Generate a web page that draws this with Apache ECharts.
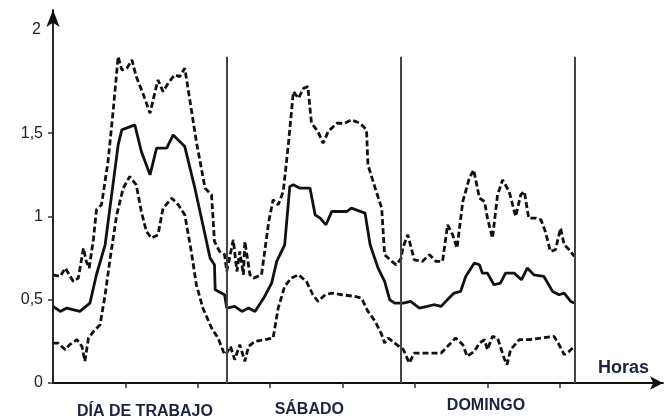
<!DOCTYPE html>
<html>
<head>
<meta charset="utf-8">
<script src="https://cdn.jsdelivr.net/npm/echarts@6/dist/echarts.min.js"></script>
<style>
  html, body { margin: 0; padding: 0; background: #fff; }
  #chart { width: 664px; height: 418px; }
</style>
</head>
<body>
<div id="chart"></div>
<script>
// Hourly load profile over three day types: mean (solid) and upper / lower band (dashed).
// Points are [hour, value]; hours run 0-72 across the three 24 h blocks.
const meanLoad = [
  [0,0.46],[1.0,0.43],[1.9,0.45],[3.7,0.43],[5.1,0.48],[6.0,0.65],[7.2,0.83],[8.1,1.13],
  [9.0,1.43],[9.5,1.52],[11.3,1.55],[12.2,1.39],[13.4,1.25],[14.3,1.41],[15.7,1.41],[16.6,1.49],
  [18.2,1.42],[19.6,1.17],[20.7,0.95],[21.7,0.75],[22.3,0.71],[22.4,0.56],[23.7,0.53],
  [24.0,0.45],[25.1,0.46],[26.1,0.43],[27.0,0.45],[27.9,0.43],[29.1,0.51],[30.2,0.60],[30.9,0.73],
  [32.0,0.83],[32.7,1.18],[33.2,1.19],[34.1,1.17],[35.5,1.17],[36.2,1.01],[36.9,0.99],[37.7,0.95],
  [38.5,1.03],[40.6,1.03],[41.2,1.05],[43.1,1.02],[43.8,0.83],[44.9,0.69],[45.8,0.61],[46.5,0.50],
  [47.2,0.48],[48.4,0.48],[49.4,0.49],[50.6,0.45],[51.7,0.46],[52.6,0.47],[53.6,0.46],[54.7,0.51],
  [55.4,0.54],[56.3,0.55],[57.0,0.64],[58.2,0.72],[58.9,0.71],[59.3,0.66],[60.0,0.66],[60.9,0.59],
  [61.8,0.60],[62.5,0.66],[63.7,0.66],[64.7,0.62],[65.5,0.69],[66.4,0.65],[67.8,0.64],[69.0,0.55],
  [69.9,0.53],[70.6,0.54],[71.5,0.49],[72.0,0.48]
];

const upperBand = [
  [0,0.65],[1.0,0.64],[1.7,0.69],[2.8,0.61],[3.5,0.63],[4.2,0.81],[4.6,0.73],[5.0,0.69],[5.6,0.87],
  [6.0,1.04],[6.7,1.07],[7.6,1.33],[8.3,1.63],[9.0,1.96],[9.5,1.88],[10.2,1.89],[10.9,1.94],
  [11.5,1.84],[12.5,1.73],[13.4,1.62],[14.1,1.75],[14.5,1.82],[15.2,1.75],[15.9,1.80],[16.8,1.85],
  [17.5,1.84],[18.2,1.89],[18.9,1.70],[19.8,1.45],[21.0,1.17],[21.9,1.13],[22.3,0.85],[23.0,0.79],
  [23.7,0.77],[24.0,0.67],[24.9,0.86],[25.4,0.67],[25.8,0.79],[26.3,0.65],[26.5,0.85],[27.2,0.65],
  [27.7,0.63],[28.8,0.65],[29.8,0.97],[30.4,1.10],[31.1,1.07],[31.8,1.15],[32.5,1.43],[33.2,1.75],
  [33.9,1.71],[34.6,1.77],[35.2,1.78],[35.7,1.56],[36.6,1.51],[37.3,1.44],[38.0,1.51],[39.2,1.56],
  [40.3,1.56],[41.2,1.58],[42.4,1.56],[43.3,1.52],[43.5,1.31],[44.5,1.17],[45.4,1.05],[45.8,0.77],
  [46.8,0.73],[47.4,0.71],[48.1,0.75],[48.3,0.81],[49.0,0.89],[49.9,0.74],[51.0,0.73],[52.0,0.77],
  [52.9,0.73],[53.8,0.73],[54.5,0.95],[55.2,0.89],[55.8,0.81],[56.6,1.09],[57.5,1.23],[58.1,1.28],
  [58.9,1.11],[59.6,1.09],[60.0,0.99],[60.7,0.87],[61.4,1.13],[62.1,1.22],[63.0,1.15],[63.9,1.00],
  [64.6,1.13],[65.1,1.15],[65.7,0.99],[66.7,0.99],[67.4,0.98],[68.0,0.91],[68.7,0.79],[69.4,0.80],
  [70.1,0.93],[70.6,0.83],[71.3,0.80],[72.0,0.76]
];

const lowerBand = [
  [0,0.24],[0.7,0.24],[1.7,0.20],[2.3,0.23],[3.3,0.26],[4.0,0.22],[4.4,0.13],[4.9,0.27],[5.6,0.31],
  [6.5,0.35],[7.2,0.53],[7.9,0.75],[8.8,1.01],[9.7,1.17],[10.6,1.24],[11.5,1.19],[12.2,1.03],
  [12.9,0.91],[13.6,0.87],[14.5,0.89],[15.2,1.05],[16.4,1.11],[17.3,1.07],[18.2,1.01],[19.1,0.79],
  [19.8,0.59],[20.7,0.45],[21.9,0.33],[22.8,0.27],[23.7,0.17],[24.0,0.18],[24.5,0.22],[25.1,0.14],
  [25.8,0.23],[26.5,0.13],[27.0,0.22],[27.9,0.25],[29.3,0.26],[30.4,0.27],[31.1,0.45],[32.0,0.58],
  [32.9,0.63],[33.9,0.65],[35.0,0.61],[35.9,0.53],[36.6,0.49],[37.6,0.53],[38.5,0.54],[39.9,0.53],
  [41.7,0.52],[42.6,0.51],[43.5,0.43],[44.5,0.37],[45.4,0.29],[45.8,0.24],[46.3,0.27],[47.2,0.24],
  [48.4,0.20],[49.2,0.12],[49.9,0.18],[51.7,0.18],[53.6,0.18],[54.5,0.22],[55.6,0.27],[56.6,0.23],
  [57.2,0.16],[58.2,0.19],[58.9,0.24],[59.6,0.26],[60.0,0.20],[60.7,0.28],[61.4,0.27],[62.3,0.15],
  [62.7,0.11],[63.2,0.20],[64.4,0.26],[65.7,0.26],[67.4,0.27],[69.2,0.28],[69.9,0.23],[70.6,0.17],
  [71.3,0.19],[72.0,0.22]
];

// Day blocks: boundaries (hours), label names and label centres
const dayBoundaries = [24, 48, 72];
const dayNames = ['DÍA DE TRABAJO', 'SÁBADO', 'DOMINGO'];
const dayLabelHours = [12.7, 35.4, 59.8];
const dayLabelStyles = ['d0', 'd1', 'd2'];

// Axis ticks
const hourTicks = [10, 20, 30, 40, 50, 60, 70];
const valueTicks = [0, 0.5, 1, 1.5];
const boundaryTop = 1.96;

const ink = '#111';
const labelInk = '#1c2340';

const chart = echarts.init(document.getElementById('chart'), null, { renderer: 'canvas' });

const dashed = { color: ink, width: 2.8, type: [6, 3] };

const dayFont = { fontFamily: 'Liberation Sans', fontWeight: 'bold', fontSize: 16, color: labelInk };

chart.setOption({
  animation: false,
  backgroundColor: '#fff',
  grid: { left: 53, right: 1, top: 10, bottom: 35, outerBoundsMode: 'none' },
  xAxis: {
    type: 'value',
    min: 0,
    max: 84.25,
    name: 'Horas',
    nameLocation: 'end',
    nameGap: -14,
    nameTextStyle: {
      fontFamily: 'Liberation Sans',
      fontWeight: 'bold',
      fontSize: 18,
      color: labelInk,
      align: 'right',
      verticalAlign: 'bottom',
      padding: [0, 0, 6, 0]
    },
    axisLine: {
      show: true,
      symbol: ['none', 'arrow'],
      symbolSize: [10, 13],
      lineStyle: { color: ink, width: 1.8 }
    },
    axisTick: {
      show: true,
      customValues: hourTicks,
      length: 5,
      lineStyle: { color: '#333', width: 1.5 }
    },
    axisLabel: {
      show: true,
      customValues: dayLabelHours,
      margin: 15,
      formatter: function (v) {
        let best = 0;
        for (let i = 1; i < dayLabelHours.length; i++) {
          if (Math.abs(dayLabelHours[i] - v) < Math.abs(dayLabelHours[best] - v)) best = i;
        }
        return '{' + dayLabelStyles[best] + '|' + dayNames[best] + '}';
      },
      rich: {
        d0: Object.assign({ padding: [6, 0, 0, 0] }, dayFont),
        d1: Object.assign({ padding: [4, 0, 0, 0] }, dayFont),
        d2: Object.assign({ padding: [0, 0, 0, 0] }, dayFont)
      }
    },
    splitLine: { show: false }
  },
  yAxis: {
    type: 'value',
    min: 0,
    max: 2.24,
    name: '2',
    nameLocation: 'end',
    nameGap: -20,
    nameTextStyle: {
      fontFamily: 'Liberation Sans',
      fontSize: 16,
      color: '#222',
      align: 'right',
      verticalAlign: 'middle',
      padding: [0, 12, 0, 0]
    },
    axisLine: {
      show: true,
      symbol: ['none', 'arrow'],
      symbolSize: [10, 17],
      lineStyle: { color: ink, width: 1.8 }
    },
    axisTick: {
      show: true,
      customValues: valueTicks,
      length: 5,
      lineStyle: { color: '#333', width: 1.5 }
    },
    axisLabel: {
      show: true,
      customValues: valueTicks,
      margin: 10,
      fontFamily: 'Liberation Sans',
      fontSize: 16,
      color: '#222',
      formatter: function (v) { return String(v).replace('.', ','); }
    },
    splitLine: { show: false }
  },
  series: [
    {
      name: 'upper',
      type: 'line',
      data: upperBand,
      symbol: 'none',
      lineStyle: dashed,
      z: 3
    },
    {
      name: 'mean',
      type: 'line',
      data: meanLoad,
      symbol: 'none',
      lineStyle: { color: ink, width: 2.8 },
      z: 4,
      markLine: {
        silent: true,
        symbol: 'none',
        label: { show: false },
        lineStyle: { color: '#444', width: 2, type: 'solid' },
        data: dayBoundaries.map(h => [{ coord: [h, 0] }, { coord: [h, boundaryTop] }])
      }
    },
    {
      name: 'lower',
      type: 'line',
      data: lowerBand,
      symbol: 'none',
      lineStyle: dashed,
      z: 3
    }
  ]
});
</script>
</body>
</html>
